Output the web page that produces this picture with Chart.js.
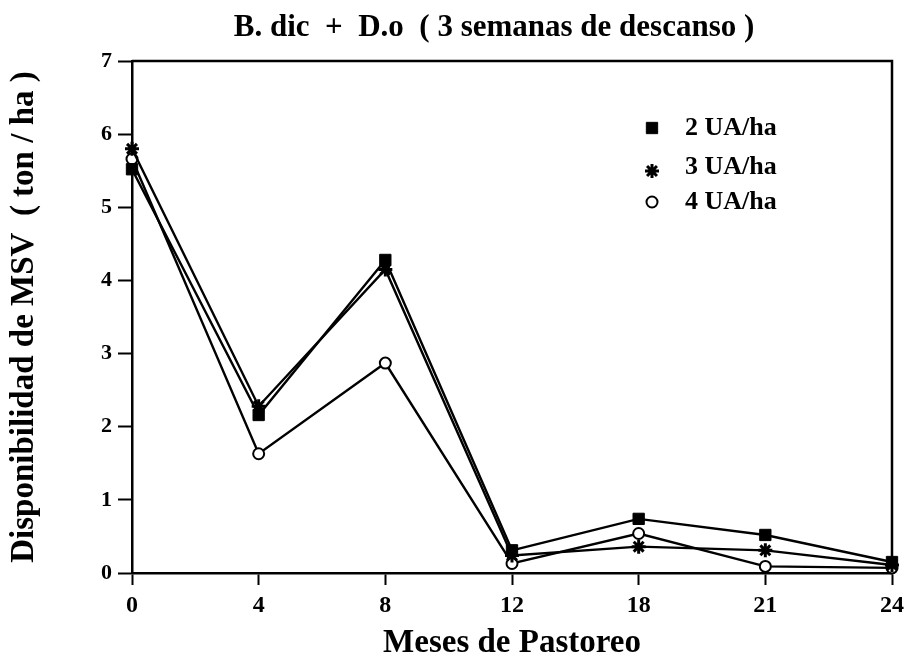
<!DOCTYPE html>
<html>
<head>
<meta charset="utf-8">
<script src="https://cdn.jsdelivr.net/npm/chart.js@4.4.1/dist/chart.umd.min.js"></script>
<style>
    body { margin: 0; background: #fff; }
    #wrap { width: 910px; height: 663px; }
</style>
</head>
<body>
<div id="wrap"><canvas id="chart" width="910" height="663"></canvas></div>
<script>
// months of grazing (x categories)
const months = ["0", "4", "8", "12", "18", "21", "24"];
// available dry matter, ton/ha
const ua2 = [5.52, 2.16, 4.28, 0.31, 0.74, 0.52, 0.15];
const ua3 = [5.8, 2.28, 4.15, 0.24, 0.36, 0.31, 0.11];
const ua4 = [5.66, 1.63, 2.87, 0.13, 0.54, 0.09, 0.07];
const seriesLabels = ["2 UA/ha", "3 UA/ha", "4 UA/ha"];
const yMin = 0;
const yMax = 7;
const chartTitle = "B. dic  +  D.o  ( 3 semanas de descanso )";

Chart.defaults.font.family = "'Liberation Serif', 'Times New Roman', serif";
Chart.defaults.font.weight = "bold";
Chart.defaults.color = "#000";

// box around the plot (top + right, the axes draw left + bottom)
const framePlugin = {
    id: "frame",
    beforeDatasetsDraw(chart) {
        const { ctx, chartArea } = chart;
        ctx.save();
        ctx.strokeStyle = "#000";
        ctx.lineWidth = 2.5;
        ctx.beginPath();
        ctx.moveTo(chartArea.left, chartArea.top);
        ctx.lineTo(chartArea.right, chartArea.top);
        ctx.lineTo(chartArea.right, chartArea.bottom);
        ctx.stroke();
        ctx.restore();
    },
};

// title sits a bit left of the plot centre in the original
const topTitle = {
    id: "topTitle",
    afterDraw(chart) {
        const { ctx, chartArea } = chart;
        ctx.save();
        ctx.fillStyle = "#000";
        ctx.font = "bold 31px 'Liberation Serif', serif";
        ctx.textAlign = "center";
        ctx.textBaseline = "middle";
        ctx.fillText(chartTitle, (chartArea.left + chartArea.right) / 2 - 18, 28);
        ctx.restore();
    },
};

// legend inside the plot, markers drawn like the points
const boxLegend = {
    id: "boxLegend",
    afterDraw(chart) {
        const { ctx, chartArea } = chart;
        const rows = [67, 106, 141];
        ctx.save();
        chart.data.datasets.forEach((ds, i) => {
            const y = chartArea.top + rows[i];
            const x = chartArea.right - 240;
            ctx.fillStyle = ds.pointBackgroundColor;
            ctx.strokeStyle = ds.pointBorderColor;
            ctx.lineWidth = ds.pointBorderWidth;
            Chart.helpers.drawPoint(ctx, {
                pointStyle: ds.pointStyle,
                radius: ds.pointRadius,
                borderWidth: ds.pointBorderWidth,
                rotation: 0,
            }, x, ds.pointStyle == "star" ? y + 4 : y);
            ctx.fillStyle = "#000";
            ctx.font = "bold 26px 'Liberation Serif', serif";
            ctx.textBaseline = "middle";
            ctx.textAlign = "left";
            ctx.fillText(ds.label, chartArea.right - 207, y);
        });
        ctx.restore();
    },
};

const makeSet = (label, data, style, radius, fill, bw) => ({
    label: label,
    data: data,
    borderColor: "#000",
    borderWidth: 2.4,
    pointStyle: style,
    pointRadius: radius,
    pointHoverRadius: radius,
    pointBackgroundColor: fill,
    pointBorderColor: "#000",
    pointBorderWidth: bw,
    tension: 0,
    clip: false,
});

const ctx = document.getElementById("chart").getContext("2d");
const myChart = new Chart(ctx, {
    type: "line",
    data: {
        labels: months,
        datasets: [
            makeSet(seriesLabels[0], ua2, "rect", 8, "#000", 1),
            makeSet(seriesLabels[1], ua3, "star", 7, "#000", 3),
            makeSet(seriesLabels[2], ua4, "circle", 5.5, "#fff", 2),
        ],
    },
    options: {
        responsive: false,
        animation: false,
        layout: { padding: { left: 0, right: 15, top: 61, bottom: 0 } },
        plugins: {
            legend: { display: false },
            tooltip: { enabled: false },
            title: { display: false },
        },
        scales: {
            x: {
                offset: false,
                grid: { drawOnChartArea: false, drawTicks: true, tickLength: 12, tickColor: "#000", tickWidth: 2 },
                border: { color: "#000", width: 2.5 },
                ticks: { font: { size: 24, weight: "bold" }, padding: 6, maxRotation: 0, autoSkip: false },
                title: {
                    display: true,
                    text: "Meses de Pastoreo",
                    font: { size: 33, weight: "bold" },
                    padding: { top: 0, bottom: 0 },
                },
                afterFit: (scale) => { scale.height = 90; },
            },
            y: {
                min: yMin,
                max: yMax,
                grid: { drawOnChartArea: false, drawTicks: true, tickLength: 14, tickColor: "#000", tickWidth: 2 },
                border: { color: "#000", width: 2.5 },
                ticks: { stepSize: 1, font: { size: 22, weight: "bold" }, padding: 6 },
                title: {
                    display: true,
                    text: "Disponibilidad de MSV  ( ton / ha )",
                    font: { size: 33, weight: "bold" },
                    padding: { top: 5, bottom: 0 },
                },
                afterFit: (scale) => { scale.width = 132; },
            },
        },
    },
    plugins: [framePlugin, topTitle, boxLegend],
});
</script>
</body>
</html>
